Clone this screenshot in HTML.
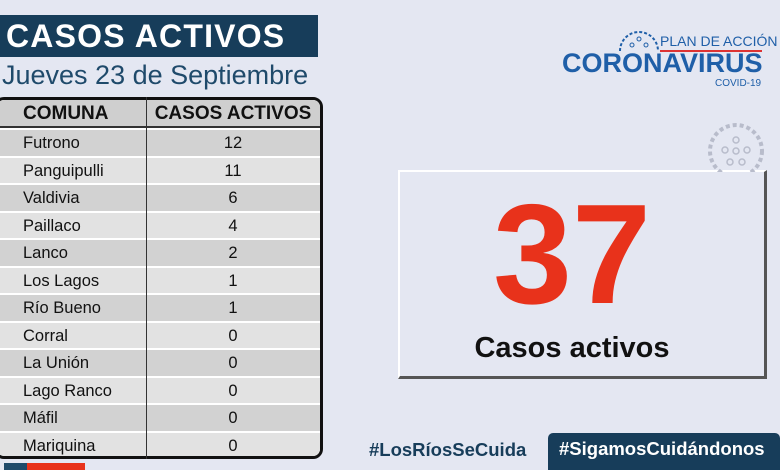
<!DOCTYPE html>
<html><head><meta charset="utf-8"><style>
*{margin:0;padding:0;box-sizing:border-box}
body{width:780px;height:470px;background:#e4e7f2;position:relative;overflow:hidden;font-family:"Liberation Sans",sans-serif}
.abs{position:absolute}
#title{left:0;top:15px;width:318px;height:42px;background:#173d5a;color:#fff;font-weight:bold;font-size:32px;letter-spacing:1.2px;line-height:42px;padding-left:6px}
#sub{left:2px;top:60px;font-size:27px;color:#1f4a6b;white-space:nowrap}
#tbl{left:-6px;top:97px;width:329px;height:362px;border:3px solid #111;border-radius:10px;overflow:hidden;background:#fff}
.row{position:absolute;left:0;width:100%;font-size:16.5px;color:#111}
.row .c1{position:absolute;left:26px}
.row .c2{position:absolute;left:152px;width:168px;text-align:center}
#div{left:146px;top:97px;width:1px;height:362px;background:#333}
#card{left:398px;top:170px;width:369px;height:209px;border-top:2px solid #fff;border-left:2px solid #fff;border-right:3px solid #555;border-bottom:3px solid #555}
</style></head><body>
<div class="abs" id="title">CASOS ACTIVOS</div>
<div class="abs" id="sub">Jueves 23 de Septiembre</div>
<div class="abs" id="tbl">
<div class="row" style="top:0;height:28px;background:#cfcfcf;border-bottom:2px solid #333;font-weight:bold;font-size:19px;line-height:28px"><span class="c1" style="left:26px">COMUNA</span><span class="c2">CASOS ACTIVOS</span></div>
</div>
<div class="abs" id="div"></div>
<div class="abs" id="card"></div>
<div class="abs" style="left:398px;top:180px;width:348px;text-align:center;color:#e8321b;font-weight:bold;font-size:142px;line-height:150px">37</div>
<div class="abs" style="left:398px;top:332px;width:348px;text-align:center;color:#111;font-weight:bold;font-size:29px">Casos activos</div>
<div class="abs" style="left:660px;top:33px;font-size:14px;color:#1f5fa8">PLAN DE ACCIÓN</div>
<div class="abs" style="left:660px;top:50px;width:102px;height:2px;background:#d33"></div>
<div class="abs" style="left:562px;top:48px;font-size:27px;font-weight:bold;color:#1f5fa8">CORONAVIRUS</div>
<div class="abs" style="left:715px;top:78px;font-size:10px;color:#1f5fa8">COVID-19</div>
<svg class="abs" style="left:618px;top:27px" width="42" height="26"><path d="M2 24 A19 19 0 0 1 40 24" fill="none" stroke="#1f5fa8" stroke-width="2" stroke-dasharray="3 2"/><circle cx="14" cy="18" r="2" fill="none" stroke="#1f5fa8"/><circle cx="21" cy="12" r="2" fill="none" stroke="#1f5fa8"/><circle cx="28" cy="18" r="2" fill="none" stroke="#1f5fa8"/></svg>
<svg class="abs" style="left:705px;top:120px" width="62" height="52"><circle cx="31" cy="31" r="26" fill="none" stroke="#b8bccb" stroke-width="4" stroke-dasharray="4 3"/><g fill="none" stroke="#b8bccb" stroke-width="1.5"><circle cx="31" cy="20" r="3"/><circle cx="20" cy="30" r="3"/><circle cx="31" cy="31" r="3"/><circle cx="42" cy="30" r="3"/><circle cx="25" cy="42" r="3"/><circle cx="37" cy="42" r="3"/></g></svg>
<div class="abs" style="left:369px;top:439px;font-size:18.5px;font-weight:bold;color:#173d5a">#LosRíosSeCuida</div>
<div class="abs" style="left:548px;top:433px;width:232px;height:37px;background:#173d5a;border-radius:5px 5px 0 0;color:#fff;font-size:18.5px;font-weight:bold;line-height:32px;padding-left:11px">#SigamosCuidándonos</div>
<div class="abs" style="left:4px;top:463px;width:23px;height:7px;background:#1f4a6b"></div>
<div class="abs" style="left:27px;top:463px;width:58px;height:7px;background:#e8321b"></div>
<script>
var d=[["Futrono",12],["Panguipulli",11],["Valdivia",6],["Paillaco",4],["Lanco",2],["Los Lagos",1],["Río Bueno",1],["Corral",0],["La Unión",0],["Lago Ranco",0],["Máfil",0],["Mariquina",0]];
var t=document.getElementById('tbl');
d.forEach(function(r,i){var e=document.createElement('div');e.className='row';var top=28+i*27.5;e.style.top=top+'px';e.style.height='27.5px';e.style.lineHeight='26px';e.style.background=i%2?'#e2e2e2':'#d2d2d2';e.style.borderTop='2px solid #fff';e.innerHTML='<span class="c1">'+r[0]+'</span><span class="c2">'+r[1]+'</span>';t.appendChild(e);});
</script>
</body></html>
